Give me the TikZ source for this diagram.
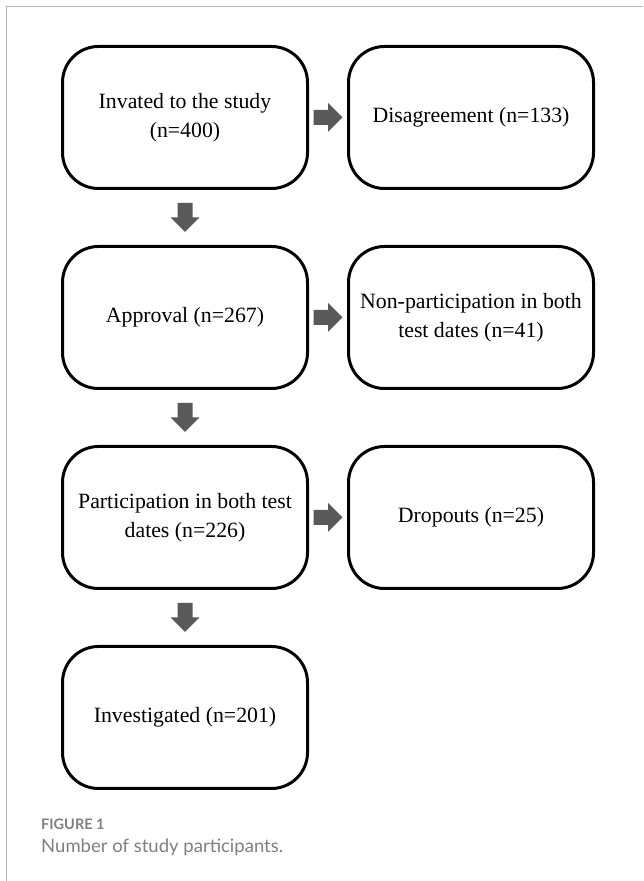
\documentclass[tikz,border=0pt]{standalone}
\usepackage{fontspec}
\setmainfont{Liberation Serif}
\newfontfamily\capfont{Lato}
\usetikzlibrary{positioning}
\definecolor{framegray}{HTML}{B4B4B4}
\definecolor{arrowgray}{HTML}{595959}
\definecolor{capgray}{HTML}{7F7F7F}
% block arrow half way between two named points
\newcommand\flowarrow[3]{%
\path (#1) -- coordinate[midway] (mid) (#2);
\fill[arrowgray, shift={(mid)}, rotate=#3] (-14.5,-7.5) -- (0,-7.5) -- (0,-14.5) -- (14.5,0) -- (0,14.5) -- (0,7.5) -- (-14.5,7.5) -- cycle;}
\begin{document}
\begin{tikzpicture}[x=1pt,y=1pt,
stagebox/.style={draw, line width=3pt, rounded corners=36pt, minimum width=245pt, minimum height=142pt, inner sep=4pt, align=center, font=\fontsize{21.8}{29}\selectfont},
captext/.style={anchor=base west, inner sep=0pt, text=capgray}]
\useasboundingbox (0,0) rectangle (643,881);
\draw[framegray, line width=1.5pt] (6.5,0) -- (6.5,874.5) -- (643,874.5);
% left column
\node[stagebox] (invited) at (185,763.5) {Invated to the study\\(n=400)};
\node[stagebox, below=55pt of invited] (approval) {Approval (n=267)};
\node[stagebox, below=55pt of approval] (both) {Participation in both test\\dates (n=226)};
\node[stagebox, below=55pt of both] (investigated) {Investigated (n=201)};
% right column
\node[stagebox, right=38pt of invited] (disagree) {Disagreement (n=133)};
\node[stagebox, right=38pt of approval] (nonpart) {Non-participation in both\\test dates (n=41)};
\node[stagebox, right=38pt of both] (dropouts) {Dropouts (n=25)};
% arrows
\flowarrow{invited.east}{disagree.west}{0}
\flowarrow{approval.east}{nonpart.west}{0}
\flowarrow{both.east}{dropouts.west}{0}
\flowarrow{invited.south}{approval.north}{-90}
\flowarrow{approval.south}{both.north}{-90}
\flowarrow{both.south}{investigated.north}{-90}
% caption
\node[captext, font=\capfont\bfseries\fontsize{14.5}{14.5}\selectfont] (figlabel) at (41,51) {FIGURE 1};
\node[captext, font=\capfont\fontsize{18.5}{18.5}\selectfont] (figcaption) at (41,28) {Number of study participants.};
\end{tikzpicture}
\end{document}
